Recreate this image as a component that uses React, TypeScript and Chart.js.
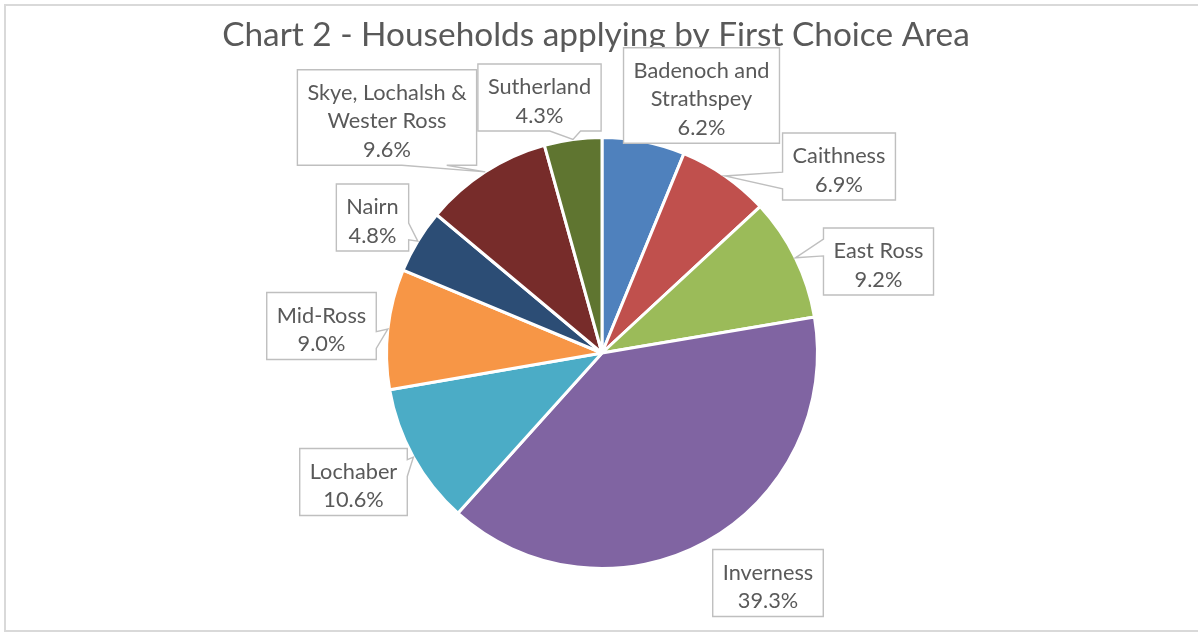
import React, { useEffect, useRef } from 'react';
import { Chart, registerables } from 'chart.js';

Chart.register(...registerables);

const TITLE = 'Chart 2 - Households applying by First Choice Area';

const categories = [
  'Badenoch and Strathspey',
  'Caithness',
  'East Ross',
  'Inverness',
  'Lochaber',
  'Mid-Ross',
  'Nairn',
  'Skye, Lochalsh & Wester Ross',
  'Sutherland',
];

// how each category name is wrapped in its label box
const labelLines = [
  ['Badenoch and', 'Strathspey'],
  ['Caithness'],
  ['East Ross'],
  ['Inverness'],
  ['Lochaber'],
  ['Mid-Ross'],
  ['Nairn'],
  ['Skye, Lochalsh &', 'Wester Ross'],
  ['Sutherland'],
];

const values = [6.2, 6.9, 9.2, 39.3, 10.6, 9.0, 4.8, 9.6, 4.3];

const colors = [
  '#4F81BD',
  '#C0504D',
  '#9BBB59',
  '#8064A2',
  '#4BACC6',
  '#F79646',
  '#2C4D75',
  '#772C2A',
  '#5F7530',
];

// label box centres (layout, canvas px) and whether a callout wedge is drawn
const labelBoxCenters = [
  [701.5, 95.5],
  [839, 166.5],
  [878.5, 261.5],
  [768, 583],
  [353.5, 482],
  [321.5, 326],
  [372.5, 217.5],
  [387, 117.5],
  [539.5, 97.5],
];
const labelPointer = [false, true, true, false, true, true, true, true, true];

const FONT = 'Lato, "Open Sans", sans-serif';
const TEXT_COLOR = '#595959';
const BOX_BORDER = '#BFBFBF';

const labelPlugin = {
  id: 'excelLabels',
  afterDraw(chart: any) {
    const ctx: CanvasRenderingContext2D = chart.ctx;
    ctx.save();

    // outer chart border
    ctx.strokeStyle = '#D9D9D9';
    ctx.lineWidth = 2;
    ctx.strokeRect(5, 5, 1210, 626);

    // title, fitted to the reference width
    ctx.font = `100px ${FONT}`;
    const tw = ctx.measureText(TITLE).width;
    const titleSize = (100 * 748) / tw;
    ctx.font = `${titleSize}px ${FONT}`;
    ctx.fillStyle = TEXT_COLOR;
    ctx.textAlign = 'center';
    ctx.textBaseline = 'alphabetic';
    ctx.fillText(TITLE, 596, 46);

    // label font fitted so that "Badenoch and" is ~136px wide
    ctx.font = `100px ${FONT}`;
    const bw = ctx.measureText('Badenoch and').width;
    const labelSize = (100 * 136) / bw;
    ctx.font = `${labelSize}px ${FONT}`;
    const lineH = 28.5;

    const meta = chart.getDatasetMeta(0);
    const total = values.reduce((a, b) => a + b, 0);

    meta.data.forEach((arc: any, i: number) => {
      const p = arc.getProps(['x', 'y', 'startAngle', 'endAngle', 'outerRadius'], true);
      const mid = (p.startAngle + p.endAngle) / 2;
      const tipX = p.x + Math.cos(mid) * p.outerRadius;
      const tipY = p.y + Math.sin(mid) * p.outerRadius;

      const pct = ((values[i] / total) * 100).toFixed(1) + '%';
      const lines = [...labelLines[i], pct];
      let maxW = 0;
      lines.forEach((l) => (maxW = Math.max(maxW, ctx.measureText(l).width)));
      const w = maxW + 20;
      const h = lines.length * lineH + 10;
      const [cx, cy] = labelBoxCenters[i];
      const l = cx - w / 2;
      const t = cy - h / 2;
      const r = l + w;
      const b = t + h;

      let side = '';
      let a1 = 0;
      let a2 = 0;
      if (labelPointer[i]) {
        const dx = tipX - cx;
        const dy = tipY - cy;
        const dq = (dx * h) / w;
        const dz = Math.abs(dy) - Math.abs(dq);
        if (dz > 0) {
          side = dy > 0 ? 'bottom' : 'top';
          a1 = l + (w * (dx > 0 ? 7 : 2)) / 12;
          a2 = l + (w * (dx > 0 ? 10 : 5)) / 12;
        } else {
          side = dx > 0 ? 'right' : 'left';
          a1 = t + (h * (dy > 0 ? 7 : 2)) / 12;
          a2 = t + (h * (dy > 0 ? 10 : 5)) / 12;
        }
      }

      ctx.beginPath();
      ctx.moveTo(l, t);
      if (side === 'top') {
        ctx.lineTo(a1, t);
        ctx.lineTo(tipX, tipY);
        ctx.lineTo(a2, t);
      }
      ctx.lineTo(r, t);
      if (side === 'right') {
        ctx.lineTo(r, a1);
        ctx.lineTo(tipX, tipY);
        ctx.lineTo(r, a2);
      }
      ctx.lineTo(r, b);
      if (side === 'bottom') {
        ctx.lineTo(a2, b);
        ctx.lineTo(tipX, tipY);
        ctx.lineTo(a1, b);
      }
      ctx.lineTo(l, b);
      if (side === 'left') {
        ctx.lineTo(l, a2);
        ctx.lineTo(tipX, tipY);
        ctx.lineTo(l, a1);
      }
      ctx.closePath();
      ctx.fillStyle = '#FFFFFF';
      ctx.fill();
      ctx.strokeStyle = BOX_BORDER;
      ctx.lineWidth = 1.4;
      ctx.stroke();

      ctx.fillStyle = TEXT_COLOR;
      ctx.textAlign = 'center';
      ctx.textBaseline = 'alphabetic';
      lines.forEach((line, k) => {
        ctx.fillText(line, cx, t + 30 + k * lineH);
      });
    });

    ctx.restore();
  },
};

export default function App() {
  const ref = useRef<HTMLCanvasElement | null>(null);

  useEffect(() => {
    document.body.style.margin = '0';
    const canvas = ref.current;
    if (!canvas) return;
    const chart = new Chart(canvas, {
      type: 'pie',
      data: {
        labels: categories,
        datasets: [
          {
            data: values,
            backgroundColor: colors,
            borderColor: '#FFFFFF',
            borderWidth: 3,
          },
        ],
      },
      options: {
        responsive: false,
        animation: false,
        devicePixelRatio: 1,
        layout: {
          padding: { left: 385, right: 379, top: 136, bottom: 63 },
        },
        plugins: {
          legend: { display: false },
          title: { display: false },
          tooltip: { enabled: false },
        },
      },
      plugins: [labelPlugin],
    });
    return () => chart.destroy();
  }, []);

  return (
    <div style={{ position: 'absolute', left: 0, top: 0, width: 1198, height: 633, background: '#fff' }}>
      <canvas ref={ref} width={1198} height={633} style={{ display: 'block' }} />
    </div>
  );
}
